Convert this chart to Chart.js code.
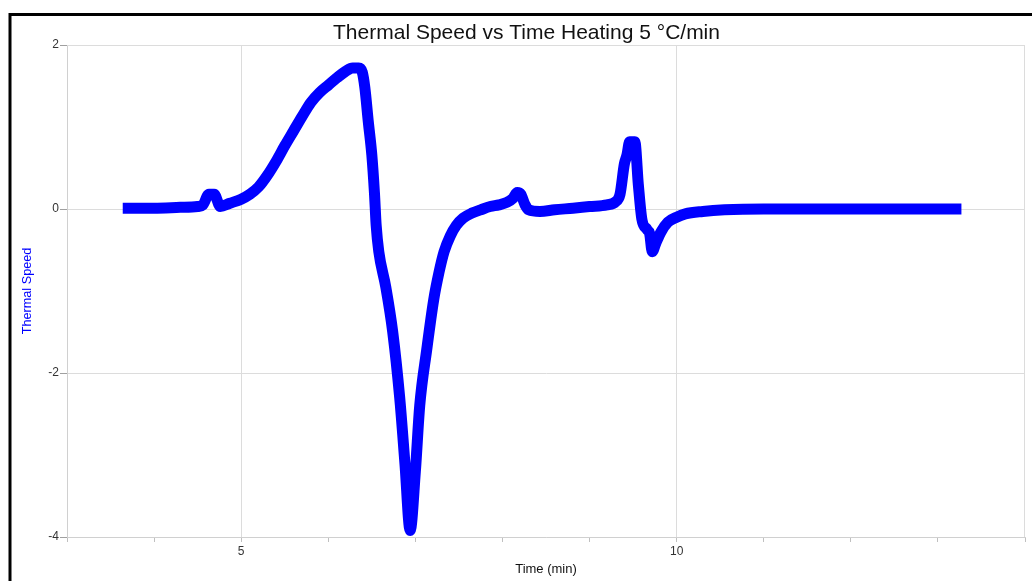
<!DOCTYPE html>
<html>
<head>
<meta charset="utf-8">
<title>Thermal Speed vs Time</title>
<script src="https://cdn.jsdelivr.net/npm/chart.js@4.4.1/dist/chart.umd.min.js"></script>
<style>
  html, body { margin: 0; padding: 0; background: #fff; }
  #wrap { position: relative; width: 1032px; height: 581px; }
</style>
</head>
<body>
<div id="wrap"><canvas id="c" width="1032" height="581"></canvas></div>
<script>
// Time axis (min)
const timeMin = [
  3.64, 4.00, 4.30, 4.50, 4.56, 4.63, 4.69, 4.76, 4.87, 5.00,
  5.10, 5.20, 5.30, 5.40, 5.50, 5.60, 5.70, 5.80, 5.90, 6.00,
  6.10, 6.20, 6.28, 6.35, 6.39, 6.42, 6.46, 6.50, 6.53, 6.55,
  6.58, 6.66, 6.74, 6.82, 6.88, 6.94, 7.00, 7.05, 7.13, 7.21,
  7.27, 7.33, 7.40, 7.47, 7.55, 7.65, 7.75, 7.86, 7.96, 8.05,
  8.12, 8.17, 8.21, 8.26, 8.30, 8.43, 8.60, 8.81, 9.00, 9.20,
  9.30, 9.35, 9.40, 9.43, 9.46, 9.52, 9.56, 9.60, 9.66, 9.69,
  9.72, 9.76, 9.82, 9.90, 10.00, 10.10, 10.30, 10.55, 11.00, 12.00,
  13.27
];
// Thermal speed readings
const thermalSpeed = [
  0.01, 0.01, 0.02, 0.03, 0.05, 0.18, 0.18, 0.03, 0.07, 0.12,
  0.18, 0.27, 0.41, 0.58, 0.77, 0.95, 1.13, 1.30, 1.42, 1.51,
  1.60, 1.68, 1.72, 1.72, 1.67, 1.48, 1.06, 0.66, 0.20, -0.20,
  -0.52, -0.95, -1.50, -2.30, -3.10, -3.92, -3.20, -2.40, -1.72, -1.11,
  -0.78, -0.52, -0.33, -0.20, -0.11, -0.05, -0.01, 0.03, 0.05, 0.08,
  0.13, 0.20, 0.18, 0.05, -0.01, -0.03, -0.01, 0.01, 0.03, 0.05,
  0.09, 0.18, 0.55, 0.66, 0.82, 0.82, 0.30, -0.12, -0.25, -0.30,
  -0.52, -0.42, -0.28, -0.16, -0.10, -0.06, -0.03, -0.01, 0.00, 0.00,
  0.00
];
// Axis ticks
const xTickLabels = [5, 10];
const yTickValues = [-4, -2, 0, 2];
const chartTitle = 'Thermal Speed vs Time Heating 5 °C/min';

const points = timeMin.map((t, i) => ({ x: t, y: thermalSpeed[i] }));

const FONT = '"Liberation Sans", Arial, Helvetica, sans-serif';

// Page frame, heading and the light border round the plot area
const framePlugin = {
  id: 'frame',
  beforeDraw(chart) {
    const ctx = chart.ctx;
    ctx.save();
    ctx.fillStyle = '#ffffff';
    ctx.fillRect(0, 0, chart.width, chart.height);
    ctx.strokeStyle = '#000000';
    ctx.lineWidth = 3;
    ctx.beginPath();
    ctx.moveTo(10, chart.height + 2);
    ctx.lineTo(10, 14.5);
    ctx.lineTo(chart.width + 2, 14.5);
    ctx.stroke();
    ctx.fillStyle = '#111111';
    ctx.font = '21px ' + FONT;
    ctx.textAlign = 'center';
    ctx.textBaseline = 'middle';
    ctx.fillText(chartTitle, 526.5, 33);
    ctx.restore();
  },
  beforeDatasetsDraw(chart) {
    const { left, top, right, bottom } = chart.chartArea;
    const ctx = chart.ctx;
    ctx.save();
    ctx.strokeStyle = '#dcdcdc';
    ctx.lineWidth = 1;
    ctx.beginPath();
    ctx.moveTo(left, top + 0.5);
    ctx.lineTo(right - 0.5, top + 0.5);
    ctx.lineTo(right - 0.5, bottom);
    ctx.stroke();
    ctx.restore();
  }
};

new Chart(document.getElementById('c'), {
  type: 'line',
  data: {
    datasets: [{
      label: 'Thermal Speed',
      data: points,
      borderColor: '#0000ff',
      backgroundColor: '#0000ff',
      borderWidth: 11,
      borderCapStyle: 'butt',
      borderJoinStyle: 'round',
      cubicInterpolationMode: 'monotone',
      pointRadius: 0,
      fill: false,
      clip: 8
    }]
  },
  options: {
    responsive: false,
    animation: false,
    devicePixelRatio: 1,
    layout: { padding: { left: 0, right: 7, top: 45, bottom: 0 } },
    plugins: {
      legend: { display: false },
      tooltip: { enabled: false },
      title: { display: false }
    },
    scales: {
      x: {
        type: 'linear',
        min: 3,
        max: 14,
        afterFit(scale) { scale.height = 44; },
        afterBuildTicks(scale) {
          scale.ticks = [];
          for (let v = 3; v <= 14; v++) scale.ticks.push({ value: v });
        },
        ticks: {
          autoSkip: false,
          maxRotation: 0,
          padding: 2,
          color: '#333333',
          font: { family: FONT, size: 12 },
          callback: (v) => (xTickLabels.includes(v) ? String(v) : '')
        },
        grid: {
          color: (ctx) => (ctx.tick && xTickLabels.includes(ctx.tick.value) ? '#dcdcdc' : 'rgba(0,0,0,0)'),
          tickColor: '#c0c0c0',
          tickLength: 5,
          lineWidth: 1
        },
        border: { color: '#d0d0d0' },
        title: {
          display: true,
          text: 'Time (min)',
          color: '#111111',
          font: { family: FONT, size: 13 },
          padding: { top: 0, bottom: 4 }
        }
      },
      y: {
        type: 'linear',
        min: -4,
        max: 2,
        afterFit(scale) { scale.width = 67; },
        afterBuildTicks(scale) {
          scale.ticks = yTickValues.map(v => ({ value: v }));
        },
        ticks: {
          padding: 1,
          color: '#333333',
          font: { family: FONT, size: 12 },
          callback: (v) => String(v)
        },
        grid: {
          color: '#dcdcdc',
          tickColor: '#a0a0a0',
          tickLength: 7,
          lineWidth: 1
        },
        border: { color: '#d0d0d0' },
        title: {
          display: true,
          text: 'Thermal Speed',
          color: '#0000ff',
          font: { family: FONT, size: 12.7 },
          padding: { top: 20, bottom: 0 }
        }
      }
    }
  },
  plugins: [framePlugin]
});
</script>
</body>
</html>
